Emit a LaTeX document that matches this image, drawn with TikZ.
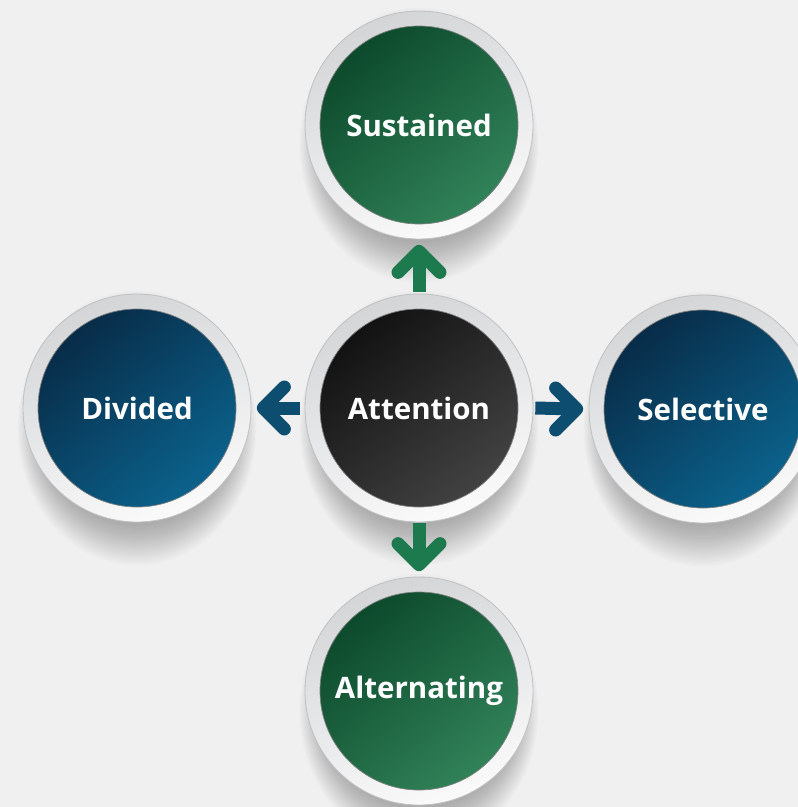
\documentclass[tikz,border=0pt]{standalone}
\usepackage{fontspec}
\setmainfont{Open Sans}
\usetikzlibrary{calc}
\definecolor{bgc}{HTML}{F0F0F0}
\definecolor{ringlight}{HTML}{FAFAFA}
\definecolor{ringdark}{HTML}{D3D5D7}
\definecolor{ringedge}{HTML}{BFC1C3}
\definecolor{gdark}{HTML}{0C4A2C}
\definecolor{glight}{HTML}{318259}
\definecolor{bdark}{HTML}{082C48}
\definecolor{blight}{HTML}{0B628C}
\definecolor{kdark}{HTML}{121212}
\definecolor{klight}{HTML}{424242}
\definecolor{garr}{HTML}{1D7A4E}
\definecolor{barr}{HTML}{0D4E70}
\begin{document}
\begin{tikzpicture}[x=1pt,y=-1pt,
  ring/.style={circle, minimum size=228pt, inner sep=0pt,
    top color=ringdark, bottom color=ringlight, shading angle=20,
    draw=ringedge, line width=0.8pt},
  disc/.style={circle, minimum size=198pt, inner sep=0pt, text=white,
    font=\bfseries\fontsize{29.5}{34}\selectfont,
    draw=black!50, line width=0.7pt},
  gdisc/.style={disc, top color=gdark, bottom color=glight, shading angle=40},
  bdisc/.style={disc, top color=bdark, bottom color=blight, shading angle=40},
  kdisc/.style={disc, top color=kdark, bottom color=klight, shading angle=40},
  shaft/.style={line width=13pt, line cap=butt},
  barb/.style={line width=13pt, line cap=round, line join=round},
  gconn/.style={draw=garr},
  bconn/.style={draw=barr}
]
\fill[bgc] (0,0) rectangle (798,807);
\useasboundingbox (0,0) rectangle (798,807);

% soft drop shadows
\foreach \cx/\cy in {419/125, 137/408, 703/409, 419/691, 419/408}{
  \foreach \i in {1,...,18}{
    \fill[black, opacity=0.014] (\cx,\cy+20) ellipse [x radius={96+1.3*\i}, y radius={96+2.3*\i}];
  }
}

\node[ring] (susring) at (419,125) {};
\node[ring] (divring) at (137,408) {};
\node[ring] (selring) at (703,409) {};
\node[ring] (altring) at (419,691) {};
\node[ring] (attring) at (419,408) {};

\node[gdisc] (sus) at (419,125) {Sustained};
\node[bdisc] (div) at (137,408) {Divided};
\node[bdisc] (sel) at (703,409) {Selective};
\node[gdisc] (alt) at (419,691) {Alternating};
\node[kdisc] (att) at (419,408) {Attention};

% arrow tips (named points)
\coordinate (tup) at ($(sus.south)+(0,27)$);
\coordinate (tdown) at ($(alt.north)+(0,-27)$);
\coordinate (tleft) at ($(div.east)+(27,0)$);
\coordinate (tright) at ($(sel.west)+(-27,0)$);

% up
\draw[shaft, gconn] ($(att.north)+(0,-17)$) -- (tup);
\draw[barb, gconn] ($(tup)+(-21,21)$) -- (tup) -- ($(tup)+(21,21)$);
% down
\draw[shaft, gconn] ($(att.south)+(0,16)$) -- (tdown);
\draw[barb, gconn] ($(tdown)+(-21,-21)$) -- (tdown) -- ($(tdown)+(21,-21)$);
% left
\draw[shaft, bconn] ($(att.west)+(-20,0)$) -- (tleft);
\draw[barb, bconn] ($(tleft)+(21,-21)$) -- (tleft) -- ($(tleft)+(21,21)$);
% right
\draw[shaft, bconn] ($(att.east)+(17,0)$) -- (tright);
\draw[barb, bconn] ($(tright)+(-21,-21)$) -- (tright) -- ($(tright)+(-21,21)$);
\end{tikzpicture}
\end{document}
